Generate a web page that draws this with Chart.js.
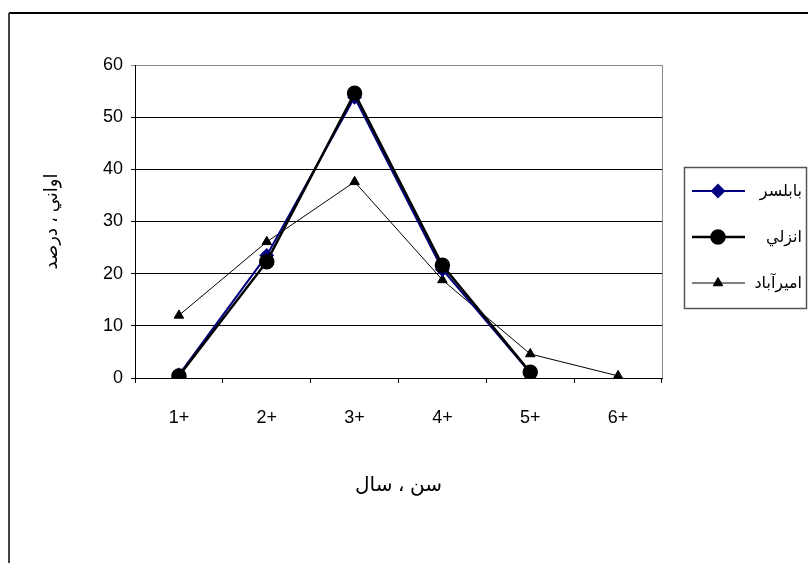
<!DOCTYPE html>
<html>
<head>
<meta charset="utf-8">
<title>Age distribution chart</title>
<script src="https://cdn.jsdelivr.net/npm/chart.js"></script>
<style>
  html, body { margin: 0; padding: 0; background: #fff; }
  canvas { display: block; }
</style>
</head>
<body>
<canvas id="ageChart" width="808" height="563"></canvas>
<script>
// values
const categories = ['1+', '2+', '3+', '4+', '5+', '6+'];
const babolsar = [0.6, 23.5, 53.8, 20.8, 1.0, null];
const anzali = [0.4, 22.3, 54.6, 21.6, 1.1, null];
const amirabad = [12.0, 26.1, 37.6, 18.8, 4.6, 0.4];
const seriesNames = ['بابلسر', 'انزلي', 'اميرآباد'];
const yTicks = [0, 10, 20, 30, 40, 50, 60];

const FONT = "'Liberation Sans', Arial, 'DejaVu Sans', sans-serif";
Chart.defaults.color = '#000';
Chart.defaults.font.family = FONT;

// frame, right plot edge and the boxed legend
const extras = {
  id: 'extras',
  afterDraw(chart) {
    const ctx = chart.ctx;
    const area = chart.chartArea;
    ctx.save();

    // outer frame
    ctx.lineWidth = 2;
    ctx.strokeStyle = '#000';
    ctx.beginPath(); ctx.moveTo(9, 13); ctx.lineTo(808, 13); ctx.stroke();
    ctx.strokeStyle = '#444';
    ctx.beginPath(); ctx.moveTo(9, 13); ctx.lineTo(9, 563); ctx.stroke();

    // right edge of plot area
    ctx.lineWidth = 1;
    ctx.strokeStyle = '#888';
    ctx.beginPath(); ctx.moveTo(area.right + 0.5, area.top); ctx.lineTo(area.right + 0.5, area.bottom); ctx.stroke();

    // legend
    ctx.strokeStyle = '#555';
    ctx.lineWidth = 1.5;
    ctx.strokeRect(684.5, 167.5, 122, 141);
    ctx.font = '16px ' + FONT;
    ctx.textAlign = 'right';
    ctx.textBaseline = 'middle';
    chart.data.datasets.forEach((ds, i) => {
      const y = 191 + i * 46;
      ctx.strokeStyle = ds.borderColor;
      ctx.lineWidth = ds.borderWidth;
      ctx.beginPath(); ctx.moveTo(692, y); ctx.lineTo(745, y); ctx.stroke();
      ctx.fillStyle = ds.pointBackgroundColor;
      ctx.strokeStyle = ds.pointBorderColor;
      Chart.helpers.drawPoint(ctx, {
        pointStyle: ds.pointStyle, radius: ds.pointRadius, rotation: 0, borderWidth: 1
      }, 718, y);
      ctx.fillStyle = '#000';
      ctx.fillText(ds.label, 802, y + 1);
    });
    ctx.restore();
  }
};

new Chart(document.getElementById('ageChart'), {
  type: 'line',
  data: {
    labels: categories,
    datasets: [
      {
        label: seriesNames[0], data: babolsar, order: 1,
        borderColor: '#000080', borderWidth: 2,
        pointStyle: 'rectRot', pointRadius: 6,
        pointBackgroundColor: '#000080', pointBorderColor: '#000080'
      },
      {
        label: seriesNames[1], data: anzali, order: 0,
        borderColor: '#000', borderWidth: 2.5,
        pointStyle: 'circle', pointRadius: 6.5,
        pointBackgroundColor: '#000', pointBorderColor: '#000'
      },
      {
        label: seriesNames[2], data: amirabad, order: 2,
        borderColor: '#000', borderWidth: 1,
        pointStyle: 'triangle', pointRadius: 5.5,
        pointBackgroundColor: '#000', pointBorderColor: '#000'
      }
    ]
  },
  options: {
    responsive: false,
    animation: false,
    spanGaps: false,
    elements: { line: { tension: 0 } },
    layout: { padding: { left: 0, right: 146, top: 65, bottom: 0 } },
    plugins: {
      legend: { display: false },
      tooltip: { enabled: false }
    },
    scales: {
      x: {
        offset: true,
        grid: { offset: true, drawOnChartArea: false, drawTicks: true, tickLength: 5, color: '#000' },
        border: { color: '#000', width: 1 },
        ticks: { padding: 24, font: { size: 18 }, color: '#000' },
        title: {
          display: true, text: 'سن ، سال', color: '#000',
          font: { size: 20 }, padding: { top: 0, bottom: 66 }
        },
        afterFit: s => { s.height = 185; }
      },
      y: {
        min: yTicks[0],
        max: yTicks[yTicks.length - 1],
        afterBuildTicks: s => { s.ticks = yTicks.map(v => ({ value: v })); },
        grid: {
          color: c => (c.tick && c.tick.value === 60 ? '#888' : '#000'),
          tickLength: 4, lineWidth: 1
        },
        border: { color: '#000', width: 1 },
        ticks: { padding: 8, font: { size: 18 }, color: '#000' },
        title: {
          display: true, text: 'اواني ، درصد', color: '#000',
          font: { size: 18 }, padding: { top: 41, bottom: 0 }
        },
        afterFit: s => { s.width = 135; }
      }
    }
  },
  plugins: [extras]
});
</script>
</body>
</html>
